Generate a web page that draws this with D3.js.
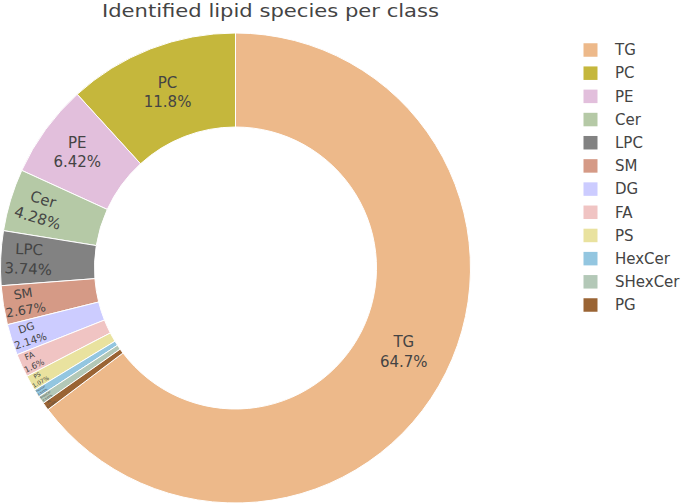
<!DOCTYPE html>
<html><head><meta charset="utf-8">
<script src="https://cdn.jsdelivr.net/npm/d3@7"></script>
<style>body{margin:0;background:#fff}</style></head>
<body>
<svg id="c" width="683" height="503"></svg>
<script>
const title = "Identified lipid species per class";
const classes = ["TG","PC","PE","Cer","LPC","SM","DG","FA","PS","HexCer","SHexCer","PG"];
const counts = [121,22,12,8,7,5,4,3,2,1,1,1];
const colors = ["#EDB98A","#C5B73C","#E2BFDC","#B5C9A6","#828282","#D59A86","#CCCCFF","#F0C4C3","#E9E29F","#93C6E0","#B3C8B7","#9A6434"];

const FONT = "DejaVu Sans, Verdana, sans-serif";
const FS = 15;
const svg = d3.select("#c");
const cx = 235.5, cy = 268, R = 235, hole = 0.6, ring = 1 - hole;
const total = d3.sum(counts);
const data = classes.map((c,i)=>({name:c, v:counts[i], color:colors[i], idx:i}));
const key = d => d.idx === 0 ? classes.length : d.idx;
const pie = d3.pie().value(d=>d.v).sort((a,b)=>key(a)-key(b)).startAngle(0).endAngle(-2*Math.PI);
const arcs = pie(data);
const arc = d3.arc().innerRadius(R*hole).outerRadius(R);
const fmt = d3.format(".3~p");

const g = svg.append("g").attr("transform",`translate(${cx},${cy})`);
g.selectAll("path.slice").data(arcs).join("path")
  .attr("class","slice").attr("d",arc)
  .attr("fill",d=>d.data.color).attr("stroke","#fff").attr("stroke-width",1);

function calcRotate(t){ return ((180/Math.PI*t + 720) % 180) - 90; }
function maxHalf(a, half, r, ring){
  const q = a + 1/(2*Math.tan(half));
  return r*Math.min(1/(Math.sqrt(q*q+0.5)+q), ring/(Math.sqrt(a*a+ring/2)+a));
}

const tg = svg.append("g");
arcs.forEach(d=>{
  const t = tg.append("text").attr("font-family",FONT).attr("font-size",FS).attr("fill","#444")
    .attr("text-anchor","middle");
  t.append("tspan").attr("x",0).attr("y",0).text(d.data.name);
  t.append("tspan").attr("x",0).attr("dy","1.3em").text(fmt(d.data.v/total));
  const bb = t.node().getBBox();
  const w = bb.width, h = bb.height;
  const diam = Math.sqrt(w*w+h*h);
  const half = Math.PI*Math.min(d.data.v/total, 0.5);
  const mid = (d.startAngle + d.endAngle)/2;
  const rIns = Math.min(1/(1+1/Math.sin(half)), ring/2);
  let tr = {scale: rIns*R*2/diam, rc: 1 - rIns, rot: 0};
  if (tr.scale < 1) {
    const rr = Math.max(0, R - 6);
    const cands = [tr];
    let a = h/w, s = maxHalf(a, half, rr, ring);
    cands.push({scale: 2*s/w, rc: Math.cos(s/rr) - a*s/rr, rot: calcRotate(mid + Math.PI/2)});
    a = w/h; s = maxHalf(a, half, rr, ring);
    cands.push({scale: 2*s/h, rc: Math.cos(s/rr) - a*s/rr, rot: calcRotate(mid)});
    tr = cands.reduce((m,c)=> c.scale > m.scale ? c : m, cands[0]);
  }
  const sc = Math.min(1, tr.scale);
  const tx = cx + R*Math.sin(mid)*tr.rc, ty = cy - R*Math.cos(mid)*tr.rc;
  const mx = bb.x + w/2, my = bb.y + h/2;
  t.attr("transform",`translate(${tx},${ty}) rotate(${tr.rot}) scale(${sc}) translate(${-mx},${-my})`);
});

svg.append("text").attr("x",270.5).attr("y",16.8).attr("text-anchor","middle")
  .attr("font-family",FONT)
  .attr("font-size",18.5).attr("fill","#444").attr("textLength",337).attr("lengthAdjust","spacingAndGlyphs").text(title);

const lg = svg.append("g");
const ly = d3.scalePoint().domain(classes).range([50, 305]);
classes.forEach((c,i)=>{
  lg.append("rect").attr("x",583.5).attr("y",ly(c)-6.75).attr("width",14).attr("height",13.5).attr("fill",colors[i]);
  lg.append("text").attr("x",615).attr("y",ly(c)+5.3).attr("font-family",FONT).attr("font-size",FS).attr("fill","#444").text(c);
});
</script>
</body></html>
